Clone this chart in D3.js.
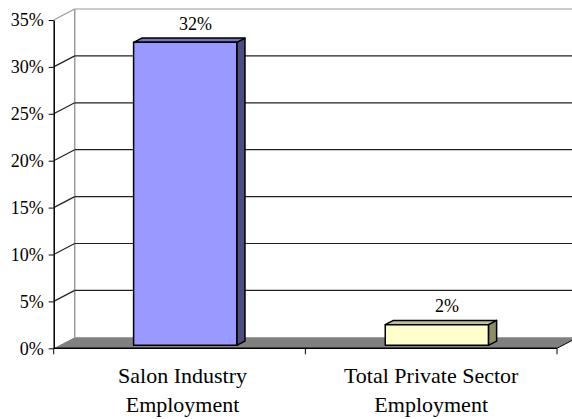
<!DOCTYPE html>
<html><head><meta charset="utf-8">
<script src="https://cdn.jsdelivr.net/npm/d3@7"></script>
</head><body style="margin:0">
<script>
const categories = [["Salon Industry","Employment"],["Total Private Sector","Employment"]];
const categoryKeys = ["Salon Industry Employment","Total Private Sector Employment"];
const values = [32.3, 2.2];
const valueLabels = ["32%","2%"];
const yTicks = [0,5,10,15,20,25,30,35];
const faceColors = ["#9999FF","#FFFFCC"];
const topColors = ["#7373BF","#BFBF99"];
const sideColors = ["#4D4D80","#8C8C66"];

const W = 572, H = 419;
const FONT = "Times New Roman";
const svg = d3.select("body").append("svg").attr("width", W).attr("height", H)
  .style("display","block").attr("font-family",FONT);

const x0 = 53.7, x1 = 557, y0 = 348.3, yTop = 20;
const DX = 21, DY = -11;
const y = d3.scaleLinear().domain([0,35]).range([y0, yTop]);
const x = d3.scaleBand().domain(categoryKeys).range([x0, x1]).padding(0);
const off = t => [DX*t, DY*t];

svg.append("polygon")
  .attr("points", [[x0,y0],[x1,y0],[x1+DX,y0+DY],[x0+DX,y0+DY]].map(p=>p.join(",")).join(" "))
  .attr("fill","#808080");
svg.append("line").attr("x1",x0+DX).attr("x2",x0+DX).attr("y1",y(35)+DY).attr("y2",y(0)+DY)
  .attr("stroke","#999").attr("stroke-width",1.5);
yTicks.filter(v=>v>0).forEach(v=>{
  const c = v===35 ? "#999" : "#222";
  svg.append("line").attr("x1",x0).attr("y1",y(v)).attr("x2",x0+DX).attr("y2",y(v)+DY)
    .attr("stroke",c).attr("stroke-width",1.2);
  svg.append("line").attr("x1",x0+DX).attr("y1",y(v)+DY).attr("x2",x1+DX).attr("y2",y(v)+DY)
    .attr("stroke",c).attr("stroke-width",1.2);
});
svg.append("line").attr("x1",x0).attr("y1",y0).attr("x2",x1).attr("y2",y0).attr("stroke","#000").attr("stroke-width",1.5);
svg.append("line").attr("x1",x1).attr("y1",y0).attr("x2",x1+DX).attr("y2",y0+DY).attr("stroke","#000").attr("stroke-width",1);

const bounds = categoryKeys.map(k=>x(k)).concat([x1]);
bounds.forEach(b=>{
  svg.append("line").attr("x1",b).attr("x2",b).attr("y1",y0).attr("y2",y0+6).attr("stroke","#000").attr("stroke-width",1);
});

const ax = svg.append("g").attr("transform",`translate(${x0},0)`)
  .call(d3.axisLeft(y).tickValues(yTicks).tickSize(5).tickSizeOuter(0).tickFormat(d=>d+"%"));
ax.attr("font-family",FONT).attr("font-size",18);
ax.select(".domain").attr("stroke","#000").attr("stroke-width",1.5);
ax.selectAll(".tick line").attr("stroke","#000");
ax.selectAll(".tick text").attr("x",-10).attr("dy","0.33em")
  .attr("font-family",FONT).attr("font-size",18).attr("fill","#000");

const t0 = 0.27, t1 = 0.66;
const barW = x.bandwidth()*0.41;
categoryKeys.forEach((k,i)=>{
  const v = values[i];
  const lx = x(k) + (x.bandwidth()-barW)/2;
  const rx = lx + barW;
  const [fdx,fdy] = off(t0), [bdx,bdy] = off(t1);
  const yb = y(0), yt = y(v);
  const P = (px,py,d)=>[px+d[0], py+d[1]];
  const F = [fdx,fdy], B = [bdx,bdy];
  const g = svg.append("g").attr("stroke","#000").attr("stroke-width",1.5).attr("stroke-linejoin","round");
  g.append("polygon").attr("points",[P(rx,yb,F),P(rx,yt,F),P(rx,yt,B),P(rx,yb,B)].map(p=>p.join(",")).join(" "))
    .attr("fill",sideColors[i]);
  g.append("polygon").attr("points",[P(lx,yt,F),P(rx,yt,F),P(rx,yt,B),P(lx,yt,B)].map(p=>p.join(",")).join(" "))
    .attr("fill",topColors[i]);
  g.append("rect").attr("x",lx+fdx).attr("y",yt+fdy).attr("width",barW).attr("height",yb-yt)
    .attr("fill",faceColors[i]);
  svg.append("text").attr("x",(lx+rx)/2+bdx+2).attr("y",yt+bdy-8)
    .attr("text-anchor","middle").attr("font-family",FONT).attr("font-size",18)
    .text(valueLabels[i]);
  const cx = x(k)+x.bandwidth()/2 + (i===0?3:0);
  categories[i].forEach((line,j)=>{
    svg.append("text").attr("x",cx).attr("y",383+j*29).attr("text-anchor","middle")
      .attr("font-family",FONT).attr("font-size",22).text(line);
  });
});
</script>
</body></html>
